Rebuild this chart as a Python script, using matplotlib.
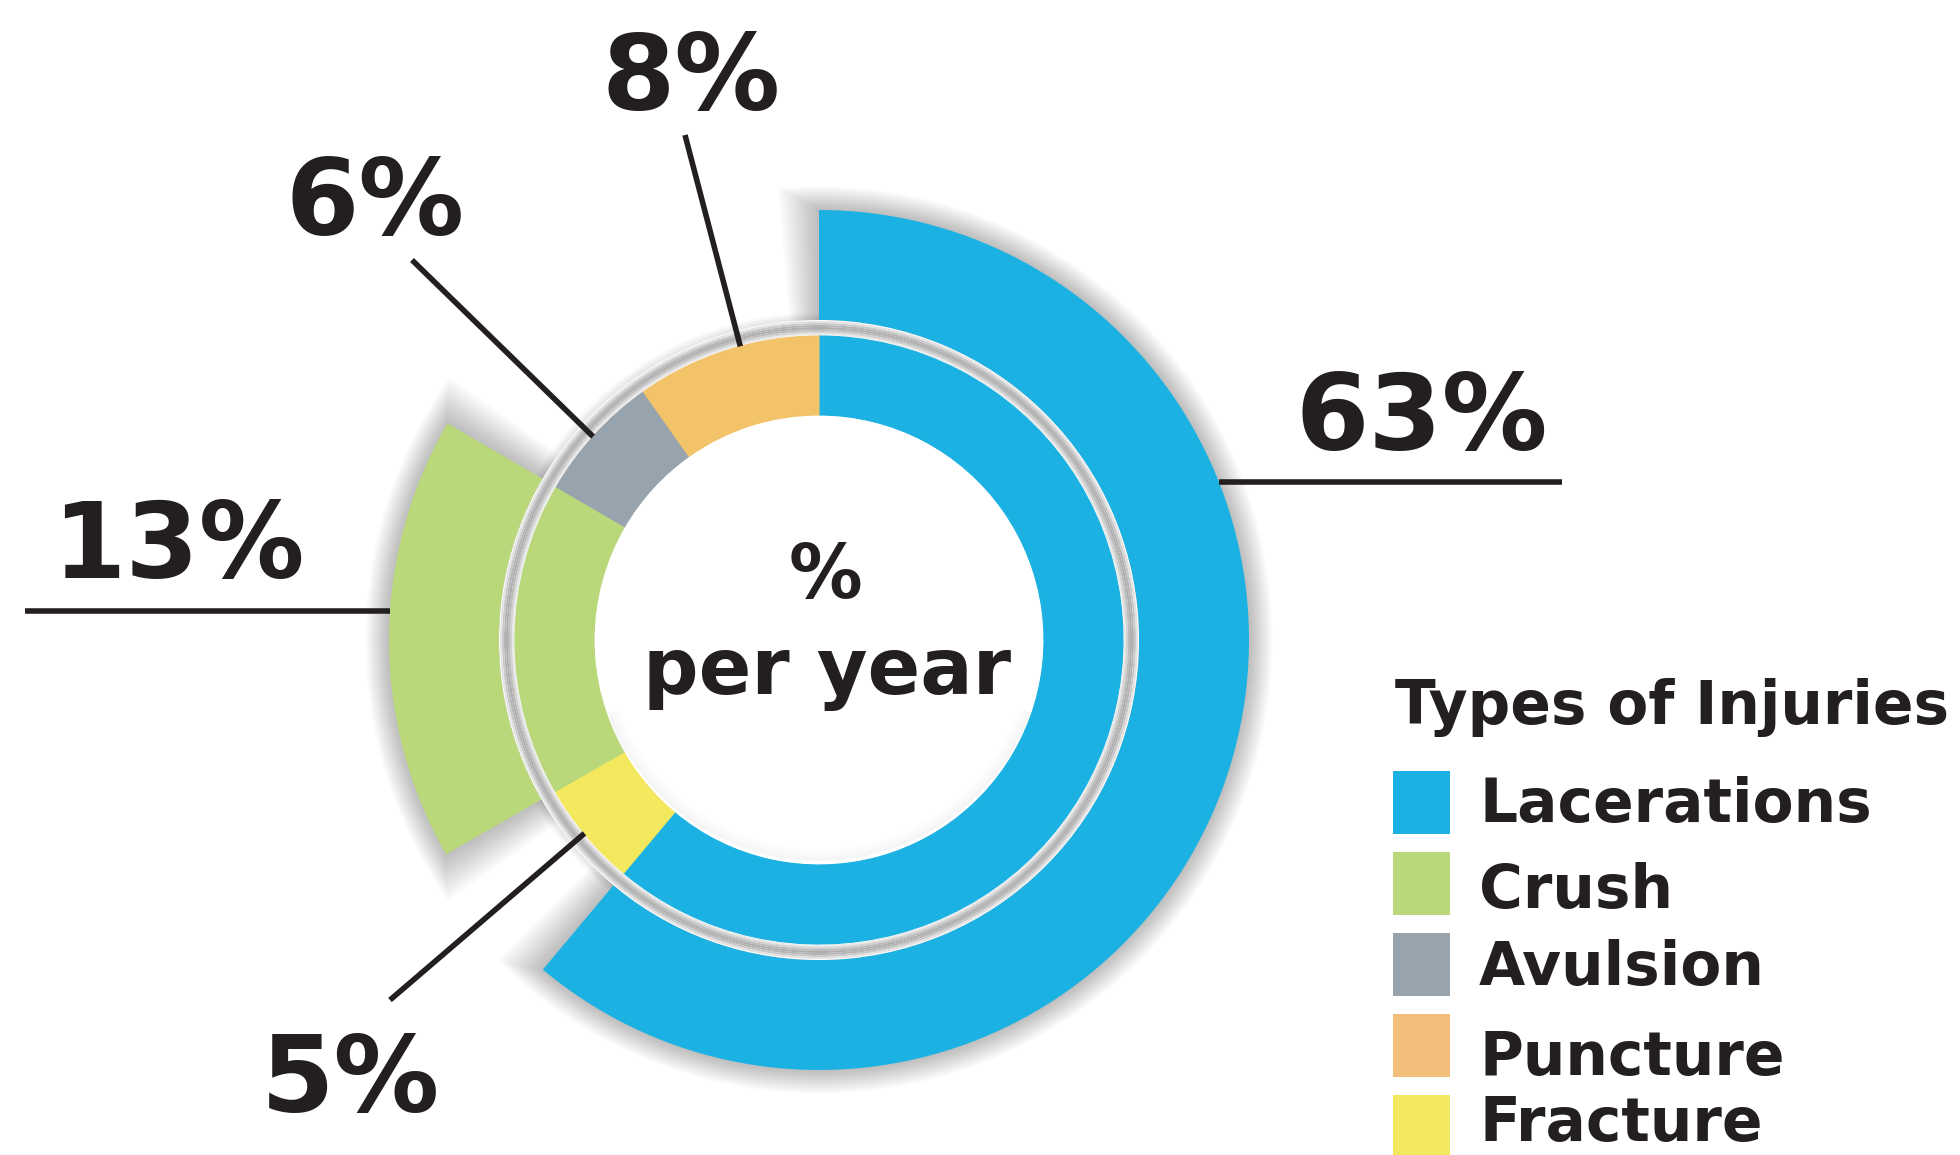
import numpy as np
import matplotlib
matplotlib.use("Agg")
import matplotlib.pyplot as plt
from matplotlib.patches import Wedge, Rectangle

# slice order round the ring, clockwise from 12 o'clock
injuries = ["Lacerations", "Fracture", "Crush", "Avulsion", "Puncture"]
shares = [61.1, 5.6, 16.7, 6.8, 9.8]          # drawn share of the ring
labels = ["63%", "5%", "13%", "6%", "8%"]      # printed values
outer_ring = ["Lacerations", "Crush"]          # slices with the big outer band

legend_order = ["Lacerations", "Crush", "Avulsion", "Puncture", "Fracture"]
colors = {"Lacerations": "#1bb2e3", "Crush": "#b9d87a", "Avulsion": "#98a4ad",
          "Puncture": "#f3c36a", "Fracture": "#f4e95e"}
legend_colors = {"Lacerations": "#1bb2e3", "Crush": "#b9d87a", "Avulsion": "#98a4ad",
                 "Puncture": "#f3bd7a", "Fracture": "#f4e95e"}

W, H = 1960, 1155
ink = "#231f20"
font = "DejaVu Sans"


def up(y):
    # picture rows run downwards, axes y runs upwards
    return H - y


fig = plt.figure(figsize=(W / 100, H / 100), dpi=100)
ax = fig.add_axes([0, 0, 1, 1])

cx, cy = 819, up(640)
r_hole, r_in, r_out_in, r_out = 225, 304, 320, 430

# angles of slice edges, clockwise from top
edges = np.concatenate([[0], np.cumsum(shares)]) * 3.6


def mpl_angles(i):
    return 90 - edges[i + 1], 90 - edges[i]


# soft drop shadows behind the rings
for k in range(1, 14):
    ax.add_patch(Wedge((cx, cy), r_in + k * 1.8, 0, 360, width=r_in + k * 1.8 - r_hole,
                       facecolor="black", edgecolor="none", alpha=0.025, zorder=1))
for i, name in enumerate(injuries):
    if name not in outer_ring:
        continue
    t1, t2 = mpl_angles(i)
    for k in range(1, 14):
        ax.add_patch(Wedge((cx, cy), r_out + k * 1.8, t1 - k * 0.4, t2 + k * 0.4,
                           width=r_out - r_out_in + k * 3.6, facecolor="black",
                           edgecolor="none", alpha=0.02, zorder=1))

# outer band (only the two largest injury types)
outer_cols = [colors[n] if n in outer_ring else "none" for n in injuries]
wedges, _ = ax.pie(shares, colors=outer_cols, radius=r_out, center=(cx, cy),
                   startangle=90, counterclock=False,
                   wedgeprops=dict(width=r_out - r_out_in, linewidth=0))
for w in wedges:
    w.set_zorder(2)

# white gap with grey bevel between the two rings
ax.add_patch(Wedge((cx, cy), r_out_in, 0, 360, width=r_out_in - r_in,
                   facecolor="white", edgecolor="none", zorder=3))
bevel = [(305, "#e9e9e9"), (307, "#d2d2d2"), (309, "#bcbcbc"), (311, "#adadad"),
         (313, "#b4b4b4"), (315, "#c8c8c8"), (317, "#e2e2e2")]
for rr, c in bevel:
    ax.add_patch(Wedge((cx, cy), rr + 2, 0, 360, width=2, facecolor=c,
                       edgecolor="none", zorder=3))

# inner ring
inner_cols = [colors[n] for n in injuries]
wedges, _ = ax.pie(shares, colors=inner_cols, radius=r_in, center=(cx, cy),
                   startangle=90, counterclock=False,
                   wedgeprops=dict(width=r_in - r_hole, linewidth=0))
for w, c in zip(wedges, inner_cols):
    w.set_zorder(4)
    w.set_edgecolor(c)
    w.set_linewidth(0.8)

# faint inner shadow on the white hole
for k in range(10):
    ax.add_patch(Wedge((cx, cy + 4), r_hole - k * 1.2, 200, 340, width=1.4,
                       facecolor="black", edgecolor="none", alpha=0.035 * (1 - k / 10),
                       zorder=5))

ax.set_xlim(0, W)
ax.set_ylim(0, H)
ax.set_aspect("equal")
ax.axis("off")

# value labels with leader lines
big = dict(fontsize=76, fontweight="bold", color=ink, family=font, va="baseline", zorder=6)
lw = 4

# 8% Puncture
ax.text(691, up(110), labels[4], ha="center", **big)
a = np.radians(90 - 345)
ax.plot([685, cx + r_in * np.cos(a)], [up(135), cy + r_in * np.sin(a)], color=ink, lw=lw,
        solid_capstyle="butt", zorder=6)
# 6% Avulsion
ax.text(375, up(235), labels[3], ha="center", **big)
a = np.radians(90 - 312)
ax.plot([412, cx + r_in * np.cos(a)], [up(260), cy + r_in * np.sin(a)], color=ink, lw=lw,
        solid_capstyle="butt", zorder=6)
# 5% Fracture
ax.text(350, up(1112), labels[1], ha="center", **big)
a = np.radians(90 - 230.5)
ax.plot([390, cx + r_in * np.cos(a)], [up(1000), cy + r_in * np.sin(a)], color=ink, lw=lw,
        solid_capstyle="butt", zorder=6)
# 63% Lacerations
ax.text(1422, up(450), labels[0], ha="center", **big)
yy = up(482)
ax.plot([cx + np.sqrt(r_out ** 2 - (yy - cy) ** 2), 1562], [yy, yy], color=ink, lw=lw,
        solid_capstyle="butt", zorder=6)
# 13% Crush
ax.text(52, up(578), labels[2], ha="left", **big)
yy = up(611)
ax.plot([25, cx - np.sqrt(r_out ** 2 - (yy - cy) ** 2)], [yy, yy], color=ink, lw=lw,
        solid_capstyle="butt", zorder=6)

# centre text
ax.text(825, up(598), "%", ha="center", va="baseline", fontsize=53, fontweight="bold",
        color=ink, family=font, zorder=6)
ax.text(827, up(694), "per year", ha="center", va="baseline", fontsize=56,
        fontweight="bold", color=ink, family=font, zorder=6)

# legend
ax.text(1395, up(724), "Types of Injuries", ha="left", va="baseline", fontsize=43,
        fontweight="bold", color=ink, family=font, zorder=6)
baselines = [822, 908, 985, 1075, 1141]
for j, name in enumerate(legend_order):
    top = 771 + j * 81
    ax.add_patch(Rectangle((1393, up(top + 63)), 57, 63, facecolor=legend_colors[name],
                           edgecolor="none", zorder=6))
    ax.text(1479, up(baselines[j]), name, ha="left", va="baseline", fontsize=43,
            fontweight="bold", color=ink, family=font, zorder=6)

fig.savefig("out.png", dpi=100, facecolor="white")
